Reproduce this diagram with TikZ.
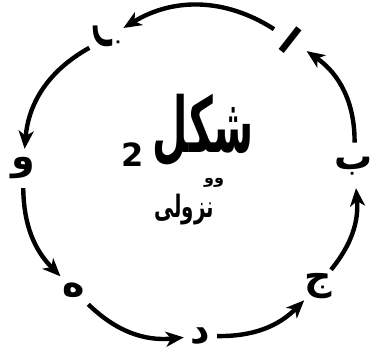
\documentclass[tikz,border=0pt]{standalone}
\usepackage{fontspec}
\usetikzlibrary{arrows.meta}
\newfontfamily\arabicfont[Script=Arabic]{DejaVu Sans}
\newfontfamily\digitfont{DejaVu Sans}
\TeXXeTstate=1
\tikzset{
  letter/.style={circle, minimum size=36pt, inner sep=0pt, font=\arabicfont\bfseries\fontsize{38}{38}\selectfont},
  arr/.style={line width=4.4pt, -{Stealth[length=18pt,width=15pt,inset=5pt]}, shorten >=1pt, shorten <=2pt},
}
\begin{document}
\begin{tikzpicture}[x=1pt,y=-1pt]
\useasboundingbox (0,0) rectangle (372,357);
\node[letter, rotate=-38] (a) at (291,40) {\beginR ا\endR};
\node[letter, rotate=-90] (z) at (107,38) {\beginR ز\endR};
\node[letter] (w) at (23,168) {\beginR و\endR};
\node[letter] (h) at (74,290) {\beginR ه\endR};
\node[letter, minimum size=30pt] (d) at (200,336) {\beginR د\endR};
\node[letter] (j) at (318,286) {\beginR ج\endR};
\node[letter] (b) at (354,166) {\beginR ب\endR};
\node (title) at (203,130) {\scalebox{0.85}[1.6]{\arabicfont\bfseries\fontsize{48}{48}\selectfont\beginR شکل\endR}};
\node (two) at (133,155) {\digitfont\bfseries\fontsize{32}{32}\selectfont 2};
\node (ww) at (214,183) {\arabicfont\bfseries\fontsize{16}{16}\selectfont\beginR وو\endR};
\node (sub) at (184,210) {\scalebox{0.9}[1.4]{\arabicfont\bfseries\fontsize{22}{22}\selectfont\beginR نزولی\endR}};
\draw[arr] (b) to[bend right=28] (a);
\draw[arr] (a) to[bend right=32] (z);
\draw[arr] (z) to[bend right=28] (w);
\draw[arr] (w) to[bend right=22] (h);
\draw[arr] (h) to[bend right=25] (d);
\draw[arr] (d) to[bend right=23] (j);
\draw[arr] (j) to[bend right=22] (b);
\end{tikzpicture}
\end{document}
